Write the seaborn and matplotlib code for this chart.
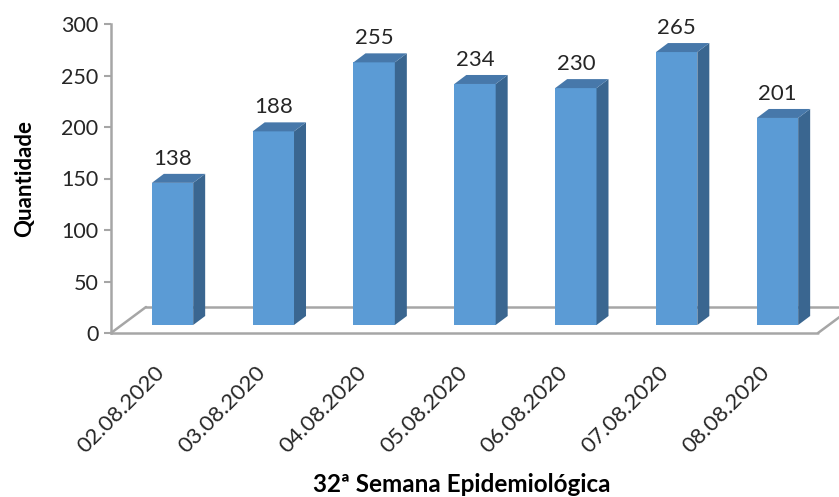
import matplotlib
matplotlib.use("Agg")
import matplotlib.pyplot as plt
import matplotlib.transforms as mtransforms
import seaborn as sns
import numpy as np
from matplotlib.patches import Polygon
from matplotlib.lines import Line2D

dates = ["02.08.2020", "03.08.2020", "04.08.2020", "05.08.2020",
         "06.08.2020", "07.08.2020", "08.08.2020"]
values = [138, 188, 255, 234, 230, 265, 201]
y_ticks = [0, 50, 100, 150, 200, 250, 300]
x_title = "32ª Semana Epidemiológica"
y_title = "Quantidade"

front_c = "#5B9BD5"
side_c = "#3A6690"
top_c = "#4778AA"
grid_c = "#A6A6A6"
text_c = "#262626"

sns.set_theme(style="white")
plt.rcParams["font.family"] = ["Lato", "DejaVu Sans"]

W, H = 839, 497
fig = plt.figure(figsize=(W / 100, H / 100), dpi=100)
ax = fig.add_axes([111 / W, (H - 333) / H, (W - 111) / W, (333 - 24) / H])

sns.barplot(x=dates, y=values, color=front_c, saturation=1, width=0.41,
            ax=ax, zorder=3, linewidth=0)
ax.set_xlim(-0.61, 6.61)
ax.set_ylim(0, 300)

# pixel -> data conversions
px_x = (6.61 + 0.61) / (W - 111)
px_y = 300 / (333 - 24)

base = 8 * px_y
bdx, bdy = 12 * px_x, 9 * px_y

# floor (3D)
fdx, fdy = 35 * px_x, 26 * px_y
x0, x1 = -0.61, 6.61 - 21 * px_x
floor_kw = dict(color=grid_c, lw=1.8, zorder=1, clip_on=False)
ax.add_line(Line2D([x0, x1], [0, 0], **floor_kw))
ax.add_line(Line2D([x0, x0 + fdx], [0, fdy], **floor_kw))
ax.add_line(Line2D([x0 + fdx, 6.61], [fdy, fdy], color=grid_c, lw=1.8, zorder=1))
ax.add_line(Line2D([x1, x1 + fdx], [0, fdy], color=grid_c, lw=1.8, zorder=1))

for p, v in zip(ax.patches, values):
    p.set_y(base)
    xl = p.get_x()
    w = p.get_width()
    xr = xl + w
    top = base + v
    side = Polygon([(xr, base), (xr, top), (xr + bdx, top + bdy), (xr + bdx, base + bdy)],
                   closed=True, facecolor=side_c, edgecolor="none", zorder=3)
    topf = Polygon([(xl, top), (xr, top), (xr + bdx, top + bdy), (xl + bdx, top + bdy)],
                   closed=True, facecolor=top_c, edgecolor="none", zorder=3)
    ax.add_patch(side)
    ax.add_patch(topf)
    ax.annotate(f"{v}", (xl + w / 2, top), xytext=(0, 13), textcoords="offset points",
                ha="center", va="baseline", fontsize=16, color=text_c)

for s in ["top", "right", "bottom"]:
    ax.spines[s].set_visible(False)
ax.spines["left"].set_color(grid_c)
ax.spines["left"].set_linewidth(1.8)

ax.set_yticks(y_ticks)
ax.set_yticklabels([str(t) for t in y_ticks], fontsize=15.5, color=text_c)
ax.tick_params(axis="y", which="major", left=True, length=5, width=1.5, color=grid_c, pad=4)
ax.tick_params(axis="x", bottom=False, pad=2)
shift = mtransforms.ScaledTranslation(-18 / 100, -18 / 100, fig.dpi_scale_trans)
for lab in ax.get_xticklabels():
    lab.set_rotation(45)
    lab.set_ha("right")
    lab.set_rotation_mode("anchor")
    lab.set_fontsize(16)
    lab.set_color(text_c)
    lab.set_transform(lab.get_transform() + shift)

ax.set_xlabel(x_title, fontsize=17.5, fontweight="bold", color="black", va="center")
ax.xaxis.set_label_coords((462 - 111) / 728, (333 - 485) / 309)
ax.set_ylabel(y_title, fontsize=16, fontweight="bold", color="black", va="center")
ax.yaxis.set_label_coords((25 - 111) / 728, 0.5)
ax.grid(False)

fig.savefig("out.png", dpi=100)
